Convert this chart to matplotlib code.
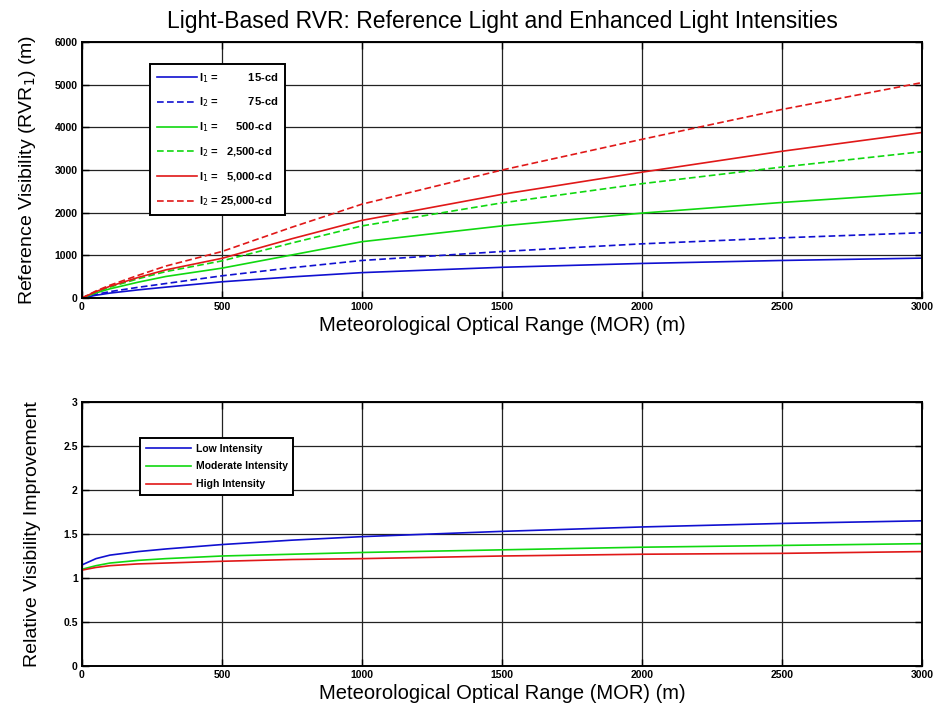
import numpy as np
import matplotlib
matplotlib.use("Agg")
import matplotlib.pyplot as plt

# MOR (m) sample points
mor = [0, 50, 100, 200, 300, 500, 750, 1000, 1500, 2000, 2500, 3000]

# reference visibility RVR (m)
rvr_15 = [0, 65, 115, 190, 255, 380, 495, 595, 720, 810, 880, 935]
rvr_75 = [0, 85, 150, 250, 340, 520, 710, 880, 1090, 1270, 1410, 1530]
rvr_500 = [0, 120, 215, 370, 505, 700, 1010, 1320, 1690, 1990, 2240, 2460]
rvr_2500 = [0, 140, 255, 450, 620, 870, 1290, 1690, 2230, 2680, 3070, 3430]
rvr_5000 = [0, 150, 275, 480, 660, 930, 1390, 1820, 2430, 2950, 3440, 3880]
rvr_25000 = [0, 165, 300, 530, 750, 1090, 1660, 2200, 3000, 3720, 4420, 5050]

# relative improvement (I2 / I1)
mor_rel = [1, 50, 100, 200, 300, 500, 750, 1000, 1500, 2000, 2500, 3000]
rel_low = [1.15, 1.22, 1.26, 1.30, 1.33, 1.38, 1.43, 1.47, 1.53, 1.58, 1.62, 1.65]
rel_mod = [1.10, 1.14, 1.17, 1.20, 1.22, 1.25, 1.27, 1.29, 1.32, 1.35, 1.37, 1.39]
rel_high = [1.09, 1.12, 1.14, 1.16, 1.17, 1.19, 1.21, 1.22, 1.25, 1.27, 1.28, 1.30]

xticks = [0, 500, 1000, 1500, 2000, 2500, 3000]
yticks_top = [0, 1000, 2000, 3000, 4000, 5000, 6000]
yticks_bot = [0, 0.5, 1, 1.5, 2, 2.5, 3]

plt.rcParams['font.family'] = ['Liberation Sans', 'DejaVu Sans']

BLUE = '#1010d0'
GREEN = '#10d810'
RED = '#e01818'
fs = '\u2007'  # figure space
ps = '\u2008'  # punctuation space

fig = plt.figure(figsize=(9.4, 7.07), dpi=100)
ax1 = fig.add_axes([0.0872, 0.5785, 0.8936, 0.362])
ax2 = fig.add_axes([0.0872, 0.058, 0.8936, 0.3734])


def style(ax, yt):
    ax.set_xlim(0, 3000)
    ax.set_xticks(xticks)
    ax.set_yticks(yt)
    ax.set_ylim(yt[0], yt[-1])
    ax.grid(True, color='#222222', lw=0.9)
    ax.tick_params(direction='in', length=5, width=1, top=True, right=True,
                   labelsize=7.5, pad=3)
    for lab in ax.get_xticklabels() + ax.get_yticklabels():
        lab.set_fontweight('bold')
    for s in ax.spines.values():
        s.set_linewidth(1.4)
    ax.set_xlabel('Meteorological Optical Range (MOR) (m)', fontsize=14.5, labelpad=3)


dash = (0, (4, 2))
ax1.plot(mor, rvr_15, color=BLUE, lw=1.2,
         label=r'I$_1$ = ' + fs * 3 + ps + fs + '15-cd')
ax1.plot(mor, rvr_75, color=BLUE, lw=1.2, ls=dash,
         label=r'I$_2$ = ' + fs * 3 + ps + fs + '75-cd')
ax1.plot(mor, rvr_500, color=GREEN, lw=1.2,
         label=r'I$_1$ = ' + fs * 2 + ps + '500-cd')
ax1.plot(mor, rvr_2500, color=GREEN, lw=1.2, ls=dash,
         label=r'I$_2$ = ' + fs + '2,500-cd')
ax1.plot(mor, rvr_5000, color=RED, lw=1.2,
         label=r'I$_1$ = ' + fs + '5,000-cd')
ax1.plot(mor, rvr_25000, color=RED, lw=1.2, ls=dash,
         label=r'I$_2$ = 25,000-cd')
style(ax1, yticks_top)
ax1.set_ylabel(r'Reference Visibility (RVR$_1$) (m)', fontsize=14, labelpad=12)
ax1.set_title('Light-Based RVR: Reference Light and Enhanced Light Intensities',
              fontsize=16.5, pad=10)
leg1 = ax1.legend(loc='upper left', bbox_to_anchor=(0.081, 0.914), borderaxespad=0,
                  fancybox=False, edgecolor='black', framealpha=1,
                  prop={'size': 8, 'weight': 'bold'}, handlelength=3.6,
                  handletextpad=0.2, labelspacing=1.0, borderpad=0.6)
leg1.get_frame().set_linewidth(1.4)

ax2.plot(mor_rel, rel_low, color=BLUE, lw=1.2, label='Low Intensity')
ax2.plot(mor_rel, rel_mod, color=GREEN, lw=1.2, label='Moderate Intensity')
ax2.plot(mor_rel, rel_high, color=RED, lw=1.2, label='High Intensity')
style(ax2, yticks_bot)
ax2.set_yticklabels(['0', '0.5', '1', '1.5', '2', '2.5', '3'])
for lab in ax2.get_yticklabels():
    lab.set_fontweight('bold')
ax2.set_ylabel('Relative Visibility Improvement', fontsize=14, labelpad=16)
leg2 = ax2.legend(loc='upper left', bbox_to_anchor=(0.069, 0.864), borderaxespad=0,
                  fancybox=False, edgecolor='black', framealpha=1,
                  prop={'size': 7.5, 'weight': 'bold'}, handlelength=4.4,
                  handletextpad=0.4, labelspacing=0.75, borderpad=0.55)
leg2.get_frame().set_linewidth(1.4)

fig.savefig('out.png', dpi=100)
